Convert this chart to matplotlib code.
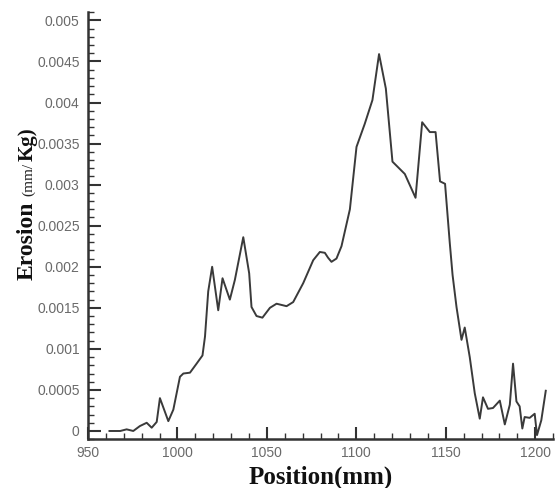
import matplotlib
matplotlib.use("Agg")
import matplotlib.pyplot as plt
from matplotlib.ticker import MultipleLocator, FuncFormatter

position = [962, 968, 971.6, 975.3, 979, 982.8, 985.6, 988.4, 990.2, 994.9,
            997.7, 1001.4, 1003.3, 1007, 1010.7, 1014, 1015.4, 1017.2, 1019.4, 1022.8,
            1025.2, 1029.3, 1032.1, 1036.8, 1040.1, 1041.4, 1044.2, 1047.5, 1051.7, 1055.4,
            1061, 1064.7, 1070.3, 1075.9, 1079.6, 1082.4, 1084.2, 1086.1, 1088.9, 1091.7,
            1096.4, 1100.1, 1104.7, 1109, 1112.7, 1116.5, 1120.2, 1127.1, 1133.1, 1136.8,
            1141.1, 1144.3, 1146.8, 1149.6, 1152.2, 1153.8, 1156, 1158.8, 1160.6, 1163.4,
            1166.2, 1169, 1170.8, 1173.6, 1176.4, 1180.2, 1183, 1185.8, 1187.6, 1189.5,
            1191.3, 1192.8, 1194.1, 1196.9, 1199.7, 1201, 1203.4, 1205.9]
erosion = [0.0, 0.0, 0.00002, 0.0, 0.00006, 0.0001, 0.00004, 0.00011, 0.0004, 0.00012,
           0.00026, 0.00066, 0.0007, 0.00071, 0.00082, 0.00092, 0.00115, 0.0017, 0.002, 0.00147,
           0.00186, 0.0016, 0.00184, 0.00236, 0.00192, 0.00151, 0.0014, 0.00138, 0.0015, 0.00155,
           0.00152, 0.00157, 0.0018, 0.00208, 0.00218, 0.00217, 0.00211, 0.00206, 0.0021, 0.00225,
           0.0027, 0.00346, 0.00374, 0.00403, 0.00459, 0.00417, 0.00328, 0.00313, 0.00284, 0.00376,
           0.00364, 0.00364, 0.00304, 0.00301, 0.0023, 0.0019, 0.00151, 0.00111, 0.00126, 0.0009,
           0.00046, 0.00015, 0.00041, 0.00027, 0.00028, 0.00037, 0.00008, 0.00032, 0.00082, 0.00036,
           0.0003, 0.00003, 0.00017, 0.00016, 0.00021, -0.00005, 0.00013, 0.00049]

fig = plt.figure(figsize=(5.57, 4.88), dpi=100)
ax = fig.add_axes([0.158, 0.100, 0.835, 0.875])
ax.plot(position, erosion, color="#3a3a3a", lw=1.4)

ax.set_xlim(950, 1210)
ax.set_ylim(-0.0001, 0.0051)
ax.spines["top"].set_visible(False)
ax.spines["right"].set_visible(False)
for s in ("left", "bottom"):
    ax.spines[s].set_linewidth(1.8)
    ax.spines[s].set_color("#333333")

ax.xaxis.set_major_locator(MultipleLocator(50))
ax.xaxis.set_minor_locator(MultipleLocator(10))
ax.yaxis.set_major_locator(MultipleLocator(0.0005))
ax.yaxis.set_minor_locator(MultipleLocator(0.0001))
ax.yaxis.set_major_formatter(FuncFormatter(lambda v, p: "%g" % round(v, 6)))
ax.tick_params(which="both", direction="in", color="#333333", labelcolor="#6a6a6a",
               labelsize=10)
ax.tick_params(which="major", length=9, width=1.5)
ax.tick_params(which="minor", length=4, width=1.0)
ax.tick_params(axis="y", pad=6)
ax.tick_params(axis="x", pad=5)
for lab in ax.get_xticklabels() + ax.get_yticklabels():
    lab.set_family("Liberation Sans")

ax.set_xlabel("Position(mm)", family="Liberation Serif", fontweight="bold",
              fontsize=18, color="#111111", labelpad=4)

fig.text(0.059, 0.426, "Erosion", rotation=90, rotation_mode="anchor",
         ha="left", va="baseline", family="Liberation Serif", fontweight="bold",
         fontsize=17, color="#111111")
fig.text(0.058, 0.598, "(mm/", rotation=90, rotation_mode="anchor",
         ha="left", va="baseline", family="Liberation Serif",
         fontsize=11, color="#222222")
fig.text(0.059, 0.670, "Kg)", rotation=90, rotation_mode="anchor",
         ha="left", va="baseline", family="Liberation Serif", fontweight="bold",
         fontsize=15, color="#111111")

fig.savefig("out.png", dpi=100, facecolor="white")
